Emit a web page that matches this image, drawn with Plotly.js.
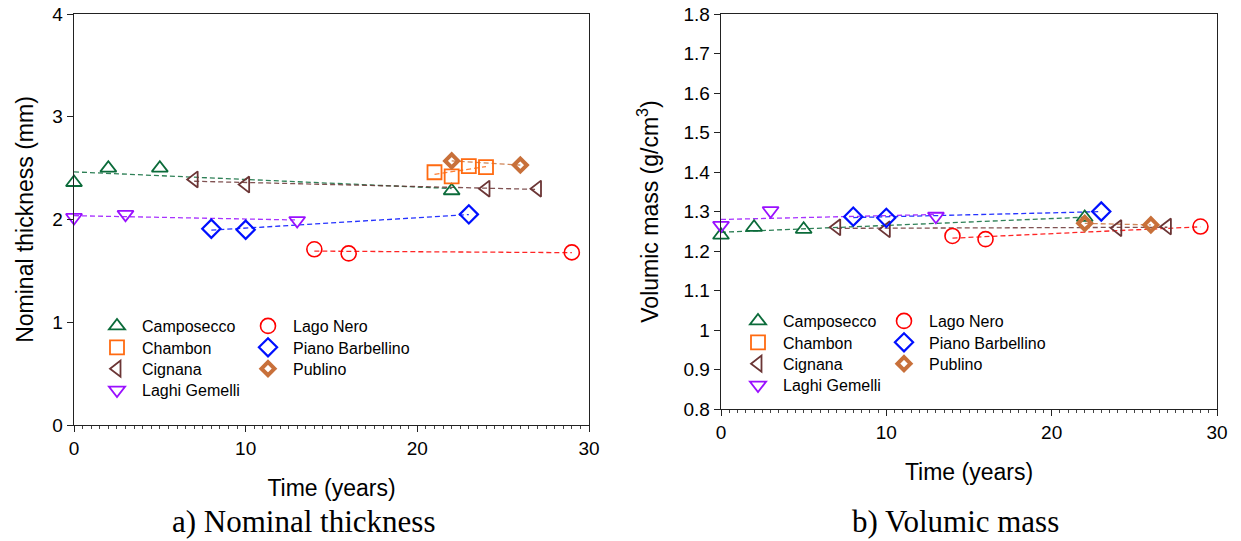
<!DOCTYPE html>
<html>
<head>
<meta charset="utf-8">
<script src="https://cdn.plot.ly/plotly-3.0.1.min.js"></script>
<style>html,body{margin:0;padding:0;background:#fff}#chart{width:1241px;height:541px}</style>
</head>
<body>
<div id="chart"></div>
<script>
// ---- data ----
const siteNames = ['Camposecco','Chambon','Cignana','Laghi Gemelli','Lago Nero','Piano Barbellino','Publino'];

// Nominal thickness (mm) vs time (years)
const camposeccoThkX = [0, 2, 5, 22];
const camposeccoThkY = [2.36, 2.50, 2.50, 2.28];
const chambonThkX = [21, 22, 23, 24];
const chambonThkY = [2.46, 2.42, 2.52, 2.51];
const cignanaThkX = [7, 10, 24, 27];
const cignanaThkY = [2.39, 2.34, 2.30, 2.30];
const gemelliThkX = [0, 3, 13];
const gemelliThkY = [2.02, 2.05, 1.99];
const lagoNeroThkX = [14, 16, 29];
const lagoNeroThkY = [1.71, 1.67, 1.68];
const pianoThkX = [8, 10, 23];
const pianoThkY = [1.91, 1.90, 2.05];
const publinoThkX = [22, 26];
const publinoThkY = [2.57, 2.53];

// Volumic mass (g/cm3) vs time (years)
const camposeccoVmX = [0, 2, 5, 22];
const camposeccoVmY = [1.24, 1.26, 1.255, 1.285];
const chambonVmX = [];
const chambonVmY = [];
const cignanaVmX = [7, 10, 24, 27];
const cignanaVmY = [1.26, 1.255, 1.258, 1.262];
const gemelliVmX = [0, 3, 13];
const gemelliVmY = [1.265, 1.302, 1.288];
const lagoNeroVmX = [14, 16, 29];
const lagoNeroVmY = [1.238, 1.23, 1.262];
const pianoVmX = [8, 10, 23];
const pianoVmY = [1.287, 1.284, 1.30];
const publinoVmX = [22, 26];
const publinoVmY = [1.27, 1.266];

// ---- styles ----
const styles = {
  'Camposecco':       {color:'#0b6b3a', symbol:'triangle-up-open', size:14, lw:1.8},
  'Chambon':          {color:'#ff6a10', symbol:'square-open', size:14, lw:1.8},
  'Cignana':          {color:'#6b3535', symbol:'triangle-left-open', size:14, lw:1.8},
  'Laghi Gemelli':    {color:'#9a10ff', symbol:'triangle-down-open', size:14, lw:1.8},
  'Lago Nero':        {color:'#ff0000', symbol:'circle-open', size:15, lw:1.6},
  'Piano Barbellino': {color:'#0010ff', symbol:'diamond-open', size:14, lw:2.2},
  'Publino':          {color:'#c8703a', symbol:'diamond-open', size:10, lw:4}
};
// legend grid placement (column, row) for each site
const legendSlot = {
  'Camposecco':[0,0], 'Chambon':[0,1], 'Cignana':[0,2], 'Laghi Gemelli':[0,3],
  'Lago Nero':[1,0], 'Piano Barbellino':[1,1], 'Publino':[1,2]
};

const thk = {
  'Camposecco':[camposeccoThkX, camposeccoThkY],
  'Chambon':[chambonThkX, chambonThkY],
  'Cignana':[cignanaThkX, cignanaThkY],
  'Laghi Gemelli':[gemelliThkX, gemelliThkY],
  'Lago Nero':[lagoNeroThkX, lagoNeroThkY],
  'Piano Barbellino':[pianoThkX, pianoThkY],
  'Publino':[publinoThkX, publinoThkY]
};
const vm = {
  'Camposecco':[camposeccoVmX, camposeccoVmY],
  'Chambon':[chambonVmX, chambonVmY],
  'Cignana':[cignanaVmX, cignanaVmY],
  'Laghi Gemelli':[gemelliVmX, gemelliVmY],
  'Lago Nero':[lagoNeroVmX, lagoNeroVmY],
  'Piano Barbellino':[pianoVmX, pianoVmY],
  'Publino':[publinoVmX, publinoVmY]
};

function fitLine(xs, ys){
  const n = xs.length;
  if (n < 2) return null;
  const mx = xs.reduce((a,b)=>a+b,0)/n, my = ys.reduce((a,b)=>a+b,0)/n;
  let sxx=0, sxy=0;
  for (let i=0;i<n;i++){ sxx += (xs[i]-mx)**2; sxy += (xs[i]-mx)*(ys[i]-my); }
  const b = sxy/sxx, a = my - b*mx;
  const x0 = Math.min(...xs), x1 = Math.max(...xs);
  return {x:[x0,x1], y:[a+b*x0, a+b*x1]};
}

const W = 1241, H = 541;
const px = v => v/W, py = v => 1 - v/H;
const legFont = {family:'Liberation Sans, Arial, sans-serif', size:16, color:'#000'};

const traces = [];
const legends = {};
let legCount = 0;
function legId(){ legCount++; return legCount === 1 ? 'legend' : 'legend' + legCount; }

function addSet(data, xa, ya, colX, rowY, rowGap){
  siteNames.forEach(name=>{
    const [xs, ys] = data[name];
    const f = fitLine(xs, ys);
    if (!f) return;
    traces.push({x:f.x, y:f.y, xaxis:xa, yaxis:ya, mode:'lines', showlegend:false, hoverinfo:'skip',
      line:{color:styles[name].color, width:1.3, dash:'5px,3px'}, opacity:0.85});
  });
  siteNames.forEach(name=>{
    const [xs, ys] = data[name];
    const s = styles[name];
    const id = legId();
    const [c, r] = legendSlot[name];
    legends[id] = {x:px(colX[c] - 24), y:py(rowY + r*rowGap - 17), xanchor:'left', yanchor:'top',
      orientation:'v', bgcolor:'rgba(0,0,0,0)', font:legFont, itemwidth:40};
    traces.push({x:xs.length?xs:[null], y:ys.length?ys:[null], xaxis:xa, yaxis:ya, mode:'markers', name:name,
      cliponaxis:false, legend:id,
      marker:{symbol:s.symbol, size:s.size, color:s.color, line:{color:s.color, width:s.lw}}});
  });
}
addSet(thk, 'x', 'y', [116, 267], 326, 21.4);
addSet(vm, 'x2', 'y2', [757, 903], 321, 21.4);

const tickFont = {family:'Liberation Sans, Arial, sans-serif', size:19, color:'#000'};
const titleFont = {family:'Liberation Sans, Arial, sans-serif', size:23, color:'#000'};

function xAxis(domain, standoff){
  return {domain:domain, range:[0,30], dtick:10, tick0:0,
    ticks:'outside', ticklen:6, tickwidth:1, tickcolor:'#222',
    minor:{dtick:0.5, ticks:'outside', ticklen:3, tickcolor:'#444', showgrid:false},
    showline:true, linecolor:'#222', linewidth:1.3, mirror:true, showgrid:false, zeroline:false,
    tickfont:tickFont, title:{text:'Time (years)', font:titleFont, standoff:standoff}};
}
// secondary unlabeled axis only for the medium (every 2 years) tick marks
function xTickAxis(domain, anchor, overlay){
  return {domain:domain, range:[0,30], dtick:2, tick0:0, anchor:anchor, overlaying:overlay, side:'bottom',
    ticks:'outside', ticklen:5, tickwidth:1, tickcolor:'#222', showticklabels:false,
    showline:false, showgrid:false, zeroline:false};
}
function yAxis(domain, range, dtick, anchor, text, standoff){
  return {domain:domain, range:range, dtick:dtick, anchor:anchor,
    ticks:'outside', ticklen:6, tickwidth:1, tickcolor:'#222',
    showline:true, linecolor:'#222', linewidth:1.3, mirror:true, showgrid:false, zeroline:false,
    tickfont:tickFont, title:{text:text, font:titleFont, standoff:standoff}};
}

const layout = Object.assign({
  width:W, height:H, margin:{l:0,r:0,t:0,b:0}, paper_bgcolor:'#fff', plot_bgcolor:'#fff',
  xaxis: xAxis([px(74), px(589)], 21),
  yaxis: yAxis([py(425), py(14)], [0,4], 1, 'x', 'Nominal thickness (mm)', 12),
  xaxis2: Object.assign(xAxis([px(721), px(1217)], 21), {anchor:'y2'}),
  yaxis2: yAxis([py(409), py(14)], [0.8,1.8], 0.1, 'x2', 'Volumic mass (g/cm<sup>3</sup>)', 18),
  xaxis3: xTickAxis([px(74), px(589)], 'y', 'x'),
  xaxis4: xTickAxis([px(721), px(1217)], 'y2', 'x2'),
  annotations:[
    {text:'a) Nominal thickness', xref:'paper', yref:'paper', x:px(303), y:py(521), xanchor:'center', yanchor:'middle',
     showarrow:false, font:{family:'Liberation Serif, Times New Roman, serif', size:31, color:'#000'}},
    {text:'b) Volumic mass', xref:'paper', yref:'paper', x:px(955), y:py(521), xanchor:'center', yanchor:'middle',
     showarrow:false, font:{family:'Liberation Serif, Times New Roman, serif', size:31, color:'#000'}}
  ]
}, legends);

Plotly.newPlot('chart', traces, layout, {staticPlot:true, displayModeBar:false});
</script>
</body>
</html>
